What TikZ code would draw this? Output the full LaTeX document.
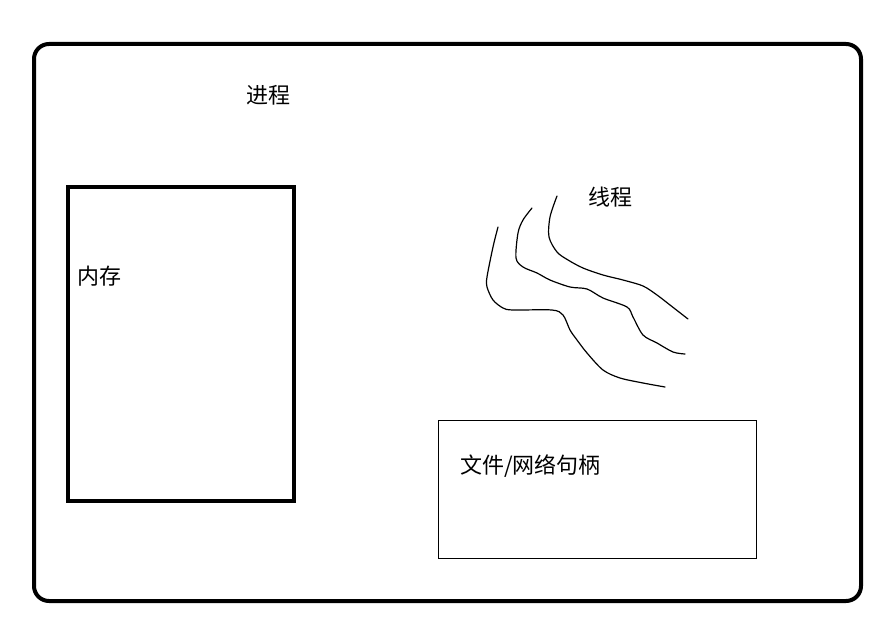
\documentclass[tikz,border=0pt]{standalone}
\usepackage{fontspec}
\setmainfont{Noto Sans CJK SC}
\begin{document}
\begin{tikzpicture}[x=1pt,y=-1pt,
  lbl/.style={font=\fontsize{22}{25}\selectfont, inner sep=0pt, text=black},
  thick4/.style={line width=4pt},
  box/.style={draw, outer sep=0pt, anchor=north west},
  curve/.style={line width=1.2pt, line join=round, line cap=round}]
\useasboundingbox (0,0) rectangle (895,634);
\node[box, thick4, rounded corners=15pt, minimum width=827pt, minimum height=557pt] (proc) at (34,44) {};
\node[box, thick4, minimum width=226pt, minimum height=314pt] (mem) at (68,187) {};
\node[box, line width=0.8pt, minimum width=318pt, minimum height=138pt] (fh) at (438,420) {};
\node[lbl] (tproc) at (268,95) {进程};
\node[lbl] (tthr) at (610,197) {线程};
\node[lbl, anchor=west] (tmem) at (77,276) {内存};
\node[lbl, anchor=west] (tfh) at (460,466) {文件/网络句柄};
\draw[curve] plot[smooth, tension=0.5] coordinates {(498,227) (493,247) (487,277) (487,287) (493,300) (503,308) (513,310) (552,310) (563,315) (570,330) (577,340) (587,353) (603,370) (620,378) (643,383) (665,387)};
\draw[curve] plot[smooth, tension=0.5] coordinates {(532,208) (523,220) (518,233) (516,258) (523,267) (537,273) (550,280) (570,287) (587,289) (603,298) (627,307) (633,317) (643,335) (657,343) (673,352) (685,354)};
\draw[curve] plot[smooth, tension=0.5] coordinates {(557,196) (550,217) (549,237) (557,252) (568,260) (583,268) (603,275) (623,280) (643,286) (657,295) (670,305) (688,319)};
\end{tikzpicture}
\end{document}
